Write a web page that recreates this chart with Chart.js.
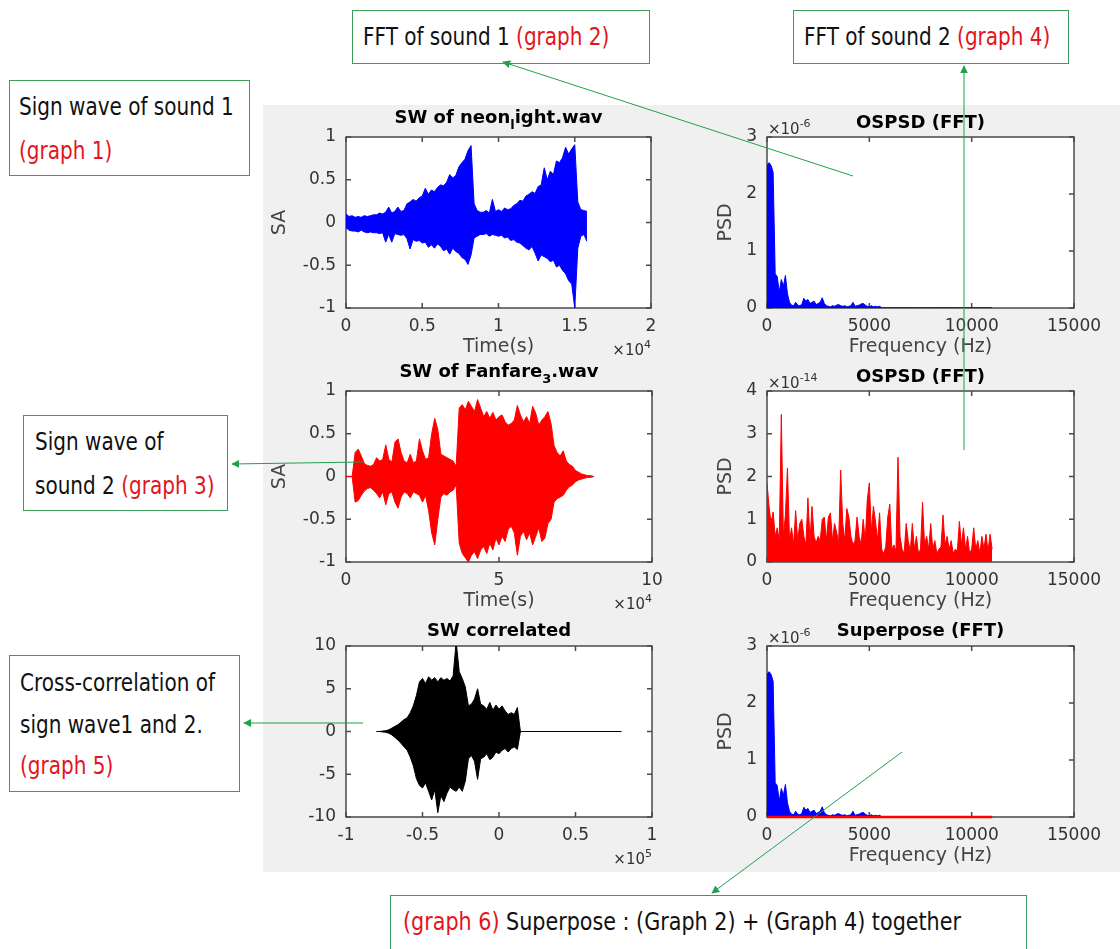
<!DOCTYPE html>
<html>
<head>
<meta charset="utf-8">
<script src="https://cdn.jsdelivr.net/npm/chart.js@4.4.1/dist/chart.umd.min.js"></script>
<style>
body { margin: 0; width: 1120px; height: 949px; position: relative; overflow: hidden; background: #fff; }
#panel { position: absolute; left: 263px; top: 105px; width: 857px; height: 767px; background: #f0f0f0; }
canvas { position: absolute; }
.note { position: absolute; box-sizing: border-box; border: 1.5px solid #3c9c58; background: #fff;
        font-family: "DejaVu Sans Condensed", "Liberation Sans", sans-serif; font-size: 25px;
        color: #111; white-space: nowrap; }
.note .in { display: inline-block; transform: scaleX(0.89); transform-origin: 0 0; }
.note .r { color: #e3141c; }
svg { position: absolute; left: 0; top: 0; z-index: 5; }
</style>
</head>
<body>
<div id="panel"></div>

<div class="note" style="left:352px;top:10px;width:298px;height:54px;line-height:51px;padding-left:10px;"><span class="in">FFT of sound 1 <span class="r">(graph 2)</span></span></div>
<div class="note" style="left:793px;top:10px;width:276px;height:54px;line-height:51px;padding-left:10px;"><span class="in">FFT of sound 2 <span class="r">(graph 4)</span></span></div>
<div class="note" style="left:9px;top:80px;width:241px;height:96px;line-height:44px;padding:4px 0 0 9px;"><span class="in">Sign wave of sound 1<br><span class="r">(graph 1)</span></span></div>
<div class="note" style="left:23px;top:415px;width:205px;height:96px;line-height:44px;padding:4px 0 0 11px;"><span class="in">Sign wave of<br>sound 2 <span class="r">(graph 3)</span></span></div>
<div class="note" style="left:9px;top:655px;width:231px;height:137px;line-height:41.5px;padding:6px 0 0 10px;"><span class="in">Cross-correlation of<br>sign wave1 and 2.<br><span class="r">(graph 5)</span></span></div>
<div class="note" style="left:390px;top:895px;width:637px;height:60px;line-height:52px;padding-left:12px;"><span class="in" style="transform:scaleX(0.92)"><span class="r">(graph 6)</span> Superpose : (Graph 2) + (Graph 4) together</span></div>

<svg width="1120" height="949">
  <defs>
    <marker id="ah" viewBox="0 0 10 10" refX="9" refY="5" markerWidth="8" markerHeight="8" orient="auto">
      <path d="M0,0 L10,5 L0,10 z" fill="#21a04f"/>
    </marker>
  </defs>
  <g stroke="#21a04f" stroke-width="1" fill="none">
    <line x1="853" y1="176" x2="503" y2="62" marker-end="url(#ah)"/>
    <line x1="964" y1="450" x2="964" y2="66" marker-end="url(#ah)"/>
    <line x1="363" y1="462" x2="232" y2="464" marker-end="url(#ah)"/>
    <line x1="363" y1="723" x2="244" y2="723" marker-end="url(#ah)"/>
    <line x1="902" y1="752" x2="712" y2="893" marker-end="url(#ah)"/>
  </g>
</svg>

<script>
// ---- data ----
// graph 1: neon_light.wav, envelope every 200 samples
var sw1Step = 200;
var upper1 = [0.10,0.07,0.08,0.06,0.07,0.06,0.08,0.07,0.08,0.09,
              0.09,0.11,0.10,0.12,0.18,0.11,0.13,0.18,0.13,0.14,
              0.22,0.24,0.27,0.25,0.29,0.31,0.40,0.33,0.38,0.36,
              0.41,0.44,0.43,0.47,0.56,0.52,0.55,0.65,0.70,0.74,
              0.84,0.90,0.22,0.14,0.12,0.12,0.14,0.11,0.27,0.13,
              0.15,0.13,0.17,0.15,0.16,0.20,0.22,0.26,0.25,0.31,
              0.33,0.36,0.34,0.42,0.44,0.64,0.50,0.60,0.56,0.72,
              0.70,0.76,0.88,0.80,0.86,0.91,0.24,0.15,0.14,0.13];
var lower1 = [-0.06,-0.09,-0.10,-0.10,-0.11,-0.09,-0.11,-0.12,-0.11,-0.12,
              -0.12,-0.13,-0.12,-0.23,-0.14,-0.23,-0.13,-0.14,-0.15,-0.14,
              -0.19,-0.31,-0.20,-0.22,-0.21,-0.24,-0.23,-0.29,-0.26,-0.30,
              -0.25,-0.28,-0.33,-0.31,-0.37,-0.30,-0.34,-0.36,-0.41,-0.43,
              -0.49,-0.38,-0.18,-0.16,-0.14,-0.14,-0.13,-0.16,-0.14,-0.15,
              -0.16,-0.15,-0.18,-0.17,-0.21,-0.20,-0.23,-0.24,-0.27,-0.30,
              -0.32,-0.28,-0.36,-0.45,-0.38,-0.40,-0.42,-0.46,-0.44,-0.52,
              -0.50,-0.56,-0.60,-0.68,-0.72,-1.00,-0.30,-0.16,-0.14,-0.22];

// graph 3: Fanfare_3.wav, envelope every 1000 samples
var sw3Step = 1000;
var upper3 = [0,0,0,0.28,0.32,0.24,0.15,0.13,0.12,0.14,
              0.22,0.18,0.20,0.37,0.20,0.17,0.40,0.44,0.28,0.18,
              0.16,0.26,0.16,0.18,0.44,0.30,0.20,0.22,0.50,0.68,
              0.55,0.26,0.24,0.22,0.20,0.18,0.12,0.80,0.84,0.78,
              0.88,0.82,0.76,0.90,0.80,0.70,0.76,0.68,0.75,0.66,
              0.70,0.72,0.64,0.60,0.62,0.66,0.83,0.72,0.64,0.70,
              0.62,0.82,0.74,0.60,0.66,0.70,0.76,0.62,0.36,0.28,
              0.24,0.30,0.18,0.14,0.12,0.07,0.05,0.03,0.02,0.01,
              0.01,0];
var lower3 = [0,0,0,-0.30,-0.28,-0.22,-0.17,-0.14,-0.13,-0.16,
              -0.20,-0.25,-0.18,-0.33,-0.20,-0.18,-0.30,-0.37,-0.24,-0.18,
              -0.20,-0.25,-0.18,-0.20,-0.22,-0.30,-0.22,-0.40,-0.66,-0.80,
              -0.50,-0.24,-0.20,-0.22,-0.18,-0.16,-0.10,-0.78,-0.90,-0.95,
              -1.00,-0.92,-0.88,-0.96,-0.86,-0.82,-0.90,-0.78,-0.86,-0.72,
              -0.80,-0.70,-0.76,-0.62,-0.58,-0.66,-0.92,-0.70,-0.64,-0.74,
              -0.66,-0.80,-0.70,-0.60,-0.76,-0.72,-0.55,-0.50,-0.30,-0.26,
              -0.24,-0.22,-0.16,-0.12,-0.10,-0.06,-0.04,-0.03,-0.02,-0.01,
              -0.01,0];

// graph 5: cross-correlation, lags from -80000 every 2000
var lagStart = -80000, lagStep = 2000;
var upper5 = [0,0,0.05,0.1,0.2,0.4,0.6,0.8,1.1,1.4,
              1.6,2.2,3.0,4.2,5.8,6.2,5.6,6.4,6.0,6.3,
              5.8,6.3,6.0,6.2,5.9,6.5,10.5,7.0,6.2,5.2,
              3.0,3.2,3.8,5.0,3.2,3.0,2.6,3.4,2.5,3.1,
              2.6,3.0,2.4,2.0,2.2,2.0,2.8,0,0,0,
              0,0,0,0,0,0,0,0,0,0,
              0,0,0,0,0,0,0,0,0,0,
              0,0,0,0,0,0,0,0,0,0,
              0];
var lower5 = [0,0,-0.05,-0.1,-0.2,-0.4,-0.7,-1.0,-1.4,-1.8,
              -2.2,-3.0,-4.0,-5.5,-6.3,-6.6,-6.0,-7.0,-8.0,-6.8,
              -9.5,-7.5,-8.2,-7.2,-6.5,-6.8,-7.0,-6.5,-7.0,-5.8,
              -3.2,-2.8,-3.5,-5.6,-3.2,-3.0,-2.6,-3.3,-3.0,-2.4,
              -2.6,-2.2,-2.0,-2.4,-2.0,-1.8,-2.1,0,0,0,
              0,0,0,0,0,0,0,0,0,0,
              0,0,0,0,0,0,0,0,0,0,
              0,0,0,0,0,0,0,0,0,0,
              0];

// graphs 2, 4, 6: one-sided PSD, every 100 Hz up to 11000 Hz
var freqStep = 100;
var psd1 = [2.50,2.55,2.50,2.38,0.60,0.55,0.28,0.50,0.38,0.57,
            0.25,0.10,0.05,0.04,0.10,0.05,0.04,0.06,0.17,0.12,
            0.15,0.08,0.10,0.12,0.06,0.08,0.10,0.18,0.08,0.04,
            0.03,0.02,0.04,0.03,0.05,0.06,0.04,0.03,0.04,0.02,
            0.03,0.04,0.10,0.03,0.04,0.05,0.07,0.08,0.05,0.03,
            0.02,0.04,0.02,0.03,0.02,0.03,
            0.005,0.005,0.005,0.005,0.005,0.005,0.005,0.005,0.005,0.005,0.005,
            0.005,0.005,0.005,0.005,0.005,0.005,0.005,0.005,0.005,0.005,0.005,
            0.005,0.005,0.005,0.005,0.005,0.005,0.005,0.005,0.005,0.005,0.005,
            0.005,0.005,0.005,0.005,0.005,0.005,0.005,0.005,0.005,0.005,0.005,
            0.005,0.005,0.005,0.005,0.005,0.005,0.005,0.005,0.005,0.005,0.005];   // x 1e-6
var psd2 = [1.85,1.30,0.90,1.17,0.60,0.80,0.50,3.45,0.60,1.10,
            2.20,0.50,0.80,0.40,1.20,0.50,0.90,1.00,0.60,0.40,
            1.50,0.50,1.30,0.60,0.45,0.60,0.50,1.00,1.05,0.50,
            1.05,1.15,0.50,0.90,0.70,0.45,2.15,0.90,0.50,1.25,
            1.05,0.60,0.40,0.50,1.05,0.60,0.40,1.00,0.50,1.45,
            1.85,0.70,1.30,0.95,0.50,1.15,0.30,0.20,0.35,1.05,
            1.35,0.30,0.40,0.25,2.45,0.60,0.30,0.20,0.90,0.50,
            0.25,0.90,0.30,0.60,0.20,0.30,1.40,0.40,0.60,0.30,
            0.90,0.30,0.50,0.20,0.30,0.35,1.10,0.40,0.60,0.30,
            0.50,0.20,0.30,0.25,0.95,0.40,0.80,0.30,0.60,0.20,
            0.30,0.80,0.30,0.50,0.20,0.60,0.30,0.65,0.25,0.65,
            0.30];  // x 1e-14

// ticks
var swTicks = [-1, -0.5, 0, 0.5, 1];
var swLabels = ['-1', '-0.5', '0', '0.5', '1'];
var sw1XTicks = [0, 5000, 10000, 15000, 20000];
var sw1XLabels = ['0', '0.5', '1', '1.5', '2'];
var sw3XTicks = [0, 50000, 100000];
var sw3XLabels = ['0', '5', '10'];
var sw5XTicks = [-100000, -50000, 0, 50000, 100000];
var sw5XLabels = ['-1', '-0.5', '0', '0.5', '1'];
var sw5YTicks = [-10, -5, 0, 5, 10];
var sw5YLabels = ['-10', '-5', '0', '5', '10'];
var freqTicks = [0, 5000, 10000, 15000];
var freqLabels = ['0', '5000', '10000', '15000'];
var psd1Ticks = [0, 1, 2, 3];
var psd2Ticks = [0, 1, 2, 3, 4];

// ---- drawing ----
var FONT = '"DejaVu Sans", "Liberation Sans", Arial, sans-serif';
var PADL = 90, PADT = 42, PADR = 45, PADB = 62;

function drawRich(ctx, parts, x, y, align, size, bold) {
    var w = 0;
    function font(p) {
        var s = (p.sub || p.sup) ? Math.round(size * 0.72) : size;
        return (bold ? 'bold ' : '') + s + 'px ' + FONT;
    }
    parts.forEach(function (p) { ctx.font = font(p); w += ctx.measureText(p.t).width; });
    var cx = align === 'center' ? x - w / 2 : (align === 'right' ? x - w : x);
    ctx.textAlign = 'left';
    ctx.textBaseline = 'alphabetic';
    parts.forEach(function (p) {
        ctx.font = font(p);
        var dy = p.sub ? size * 0.32 : (p.sup ? -size * 0.5 : 0);
        ctx.fillText(p.t, cx, y + dy);
        cx += ctx.measureText(p.t).width;
    });
}

var matlab = {
    id: 'matlab',
    beforeDraw: function (chart) {
        var a = chart.chartArea, ctx = chart.ctx;
        ctx.save();
        ctx.fillStyle = '#fff';
        ctx.fillRect(a.left, a.top, a.right - a.left, a.bottom - a.top);
        ctx.restore();
    },
    // box and inward ticks go under the data, so lines at y = 0 stay visible
    beforeDatasetsDraw: function (chart) {
        var ctx = chart.ctx, a = chart.chartArea, x = chart.scales.x, y = chart.scales.y;
        ctx.save();
        ctx.strokeStyle = '#4a4a4a';
        ctx.lineWidth = 1.5;
        ctx.beginPath();
        x.ticks.forEach(function (t) {
            var p = x.getPixelForValue(t.value);
            ctx.moveTo(p, a.bottom); ctx.lineTo(p, a.bottom - 5);
            ctx.moveTo(p, a.top); ctx.lineTo(p, a.top + 5);
        });
        y.ticks.forEach(function (t) {
            var p = y.getPixelForValue(t.value);
            ctx.moveTo(a.left, p); ctx.lineTo(a.left + 5, p);
            ctx.moveTo(a.right, p); ctx.lineTo(a.right - 5, p);
        });
        ctx.stroke();
        ctx.strokeRect(a.left, a.top, a.right - a.left, a.bottom - a.top);
        ctx.restore();
    },
    afterDraw: function (chart, args, o) {
        var ctx = chart.ctx, a = chart.chartArea;
        ctx.save();
        ctx.fillStyle = '#000';
        drawRich(ctx, o.title, (a.left + a.right) / 2, a.top - o.titleDy, 'center', 18, true);
        ctx.fillStyle = '#333';
        if (o.xExp) drawRich(ctx, [{ t: '\u00d710' }, { t: o.xExp, sup: true }], a.right, a.bottom + 47, 'right', 15, false);
        if (o.yExp) drawRich(ctx, [{ t: '\u00d710' }, { t: o.yExp, sup: true }], a.left + 1, a.top - 3, 'left', 15, false);
        ctx.restore();
    }
};

function axis(dir, ticks, labels, mult, title, tpad) {
    var vals = ticks.map(function (v) { return v * mult; });
    return {
        type: 'linear',
        min: vals[0],
        max: vals[vals.length - 1],
        grid: { display: false, drawTicks: false },
        border: { display: false },
        afterBuildTicks: function (s) { s.ticks = vals.map(function (v) { return { value: v }; }); },
        afterFit: function (s) { if (dir === 'x') s.height = PADB; else s.width = PADL; },
        ticks: {
            autoSkip: false, maxRotation: 0, minRotation: 0,
            padding: dir === 'x' ? 8 : 10,
            color: '#333',
            font: { family: FONT, size: 17 },
            callback: function (v, i) { return labels[i]; }
        },
        title: {
            display: !!title, text: title || '', color: '#444',
            font: { family: FONT, size: 19 },
            padding: dir === 'x' ? { top: 0, bottom: 12 } : { top: tpad, bottom: 0 }
        }
    };
}

function pts(xs, ys, mult) {
    return ys.map(function (v, i) { return { x: xs[i], y: v * mult }; });
}

function grid(start, step, n) {
    var g = [];
    for (var i = 0; i < n; i++) g.push(start + i * step);
    return g;
}

function envelope(t, up, lo, color) {
    return [
        { data: pts(t, up, 1), borderColor: color, backgroundColor: color, borderWidth: 1, fill: '+1' },
        { data: pts(t, lo, 1), borderColor: color, backgroundColor: color, borderWidth: 1, fill: false }
    ];
}

function makeChart(area, datasets, xs, ys, deco) {
    var c = document.createElement('canvas');
    var w = area[2] - area[0] + PADL + PADR, h = area[3] - area[1] + PADT + PADB;
    c.width = w; c.height = h;
    c.style.left = (area[0] - PADL) + 'px';
    c.style.top = (area[1] - PADT) + 'px';
    c.style.width = w + 'px';
    c.style.height = h + 'px';
    document.body.appendChild(c);
    return new Chart(c, {
        type: 'line',
        data: { datasets: datasets },
        options: {
            responsive: false,
            animation: false,
            devicePixelRatio: 1,
            layout: { padding: { left: 0, top: PADT, right: PADR, bottom: 0 }, autoPadding: false },
            elements: { point: { radius: 0 }, line: { tension: 0 } },
            plugins: { legend: { display: false }, tooltip: { enabled: false }, matlab: deco },
            scales: { x: xs, y: ys }
        },
        plugins: [matlab]
    });
}

var t1 = grid(0, sw1Step, upper1.length);
var t3 = grid(0, sw3Step, upper3.length);
var t5 = grid(lagStart, lagStep, upper5.length);
var freq = grid(0, freqStep, psd1.length);

// graph 1
makeChart([346, 137, 651, 308], envelope(t1, upper1, lower1, '#0000ff'),
    axis('x', sw1XTicks, sw1XLabels, 1, 'Time(s)'),
    axis('y', swTicks, swLabels, 1, 'SA', 13),
    { title: [{ t: 'SW of neon' }, { t: 'l', sub: true }, { t: 'ight.wav' }], titleDy: 14, xExp: '4' });

// graph 2
makeChart([767, 137, 1074, 308],
    [{ data: pts(freq, psd1, 1e-6), borderColor: '#0000ff', backgroundColor: '#0000ff', borderWidth: 1, fill: 'origin' }],
    axis('x', freqTicks, freqLabels, 1, 'Frequency (Hz)'),
    axis('y', psd1Ticks, ['0', '1', '2', '3'], 1e-6, 'PSD', 38),
    { title: [{ t: 'OSPSD (FFT)' }], titleDy: 9, yExp: '-6' });

// graph 3
makeChart([346, 391, 652, 562], envelope(t3, upper3, lower3, '#ff0000'),
    axis('x', sw3XTicks, sw3XLabels, 1, 'Time(s)'),
    axis('y', swTicks, swLabels, 1, 'SA', 13),
    { title: [{ t: 'SW of Fanfare' }, { t: '3', sub: true }, { t: '.wav' }], titleDy: 14, xExp: '4' });

// graph 4
makeChart([767, 391, 1074, 562],
    [{ data: pts(freq, psd2, 1e-14), borderColor: '#ff0000', backgroundColor: '#ff0000', borderWidth: 1, fill: 'origin' }],
    axis('x', freqTicks, freqLabels, 1, 'Frequency (Hz)'),
    axis('y', psd2Ticks, ['0', '1', '2', '3', '4'], 1e-14, 'PSD', 38),
    { title: [{ t: 'OSPSD (FFT)' }], titleDy: 9, yExp: '-14' });

// graph 5
makeChart([346, 646, 652, 817], envelope(t5, upper5, lower5, '#000000'),
    axis('x', sw5XTicks, sw5XLabels, 1, ''),
    axis('y', sw5YTicks, sw5YLabels, 1, '', 0),
    { title: [{ t: 'SW correlated' }], titleDy: 10, xExp: '5' });

// graph 6: Chart.js paints dataset 0 last, so the red trace (near zero here) sits on top
makeChart([767, 646, 1074, 817],
    [{ data: pts(freq, psd2, 1e-14), borderColor: '#ff0000', borderWidth: 2.5, fill: false, clip: 2 },
     { data: pts(freq, psd1, 1e-6), borderColor: '#0000ff', backgroundColor: '#0000ff', borderWidth: 1, fill: 'origin' }],
    axis('x', freqTicks, freqLabels, 1, 'Frequency (Hz)'),
    axis('y', psd1Ticks, ['0', '1', '2', '3'], 1e-6, 'PSD', 38),
    { title: [{ t: 'Superpose (FFT)' }], titleDy: 10, yExp: '-6' });
</script>
</body>
</html>
